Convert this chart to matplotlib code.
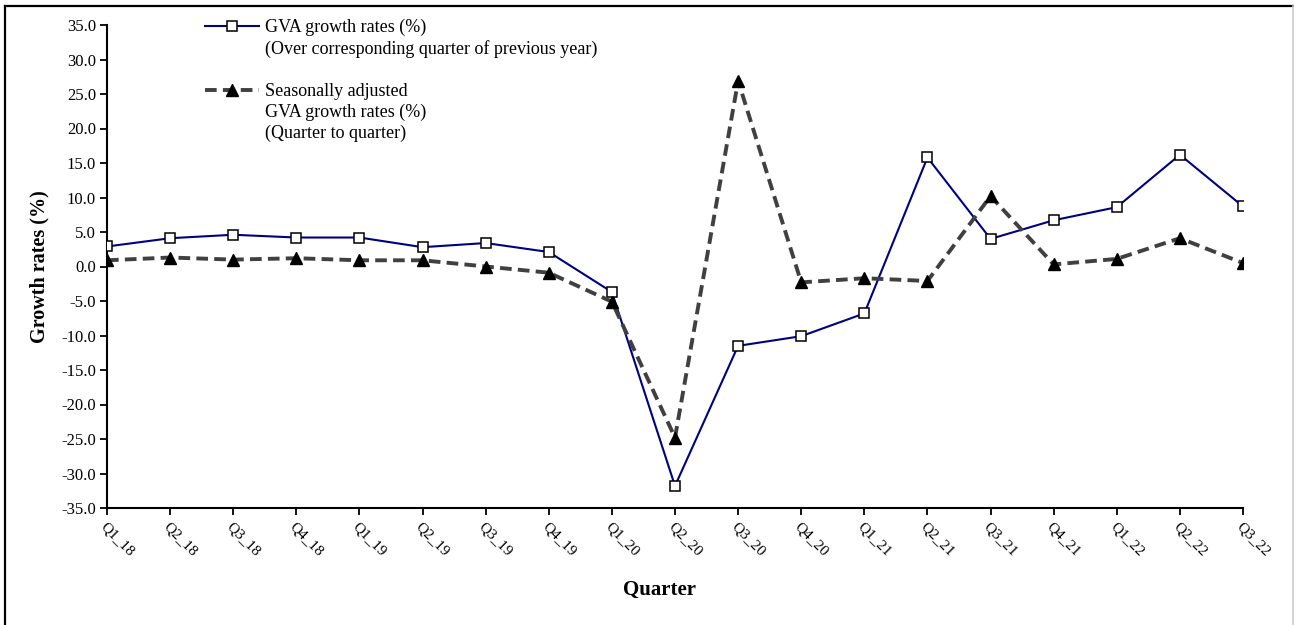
import matplotlib
matplotlib.use("Agg")
import matplotlib.pyplot as plt
from matplotlib.lines import Line2D

quarters = ["Q1_18", "Q2_18", "Q3_18", "Q4_18", "Q1_19", "Q2_19", "Q3_19", "Q4_19",
            "Q1_20", "Q2_20", "Q3_20", "Q4_20", "Q1_21", "Q2_21", "Q3_21", "Q4_21",
            "Q1_22", "Q2_22", "Q3_22"]
gva_yoy = [2.9, 4.1, 4.6, 4.2, 4.2, 2.8, 3.4, 2.1,
           -3.7, -31.8, -11.5, -10.1, -6.8, 15.8, 4.0, 6.7,
           8.6, 16.2, 8.7]
gva_sa_qoq = [0.9, 1.3, 1.0, 1.2, 0.9, 0.9, 0.0, -0.9,
              -5.1, -24.8, 26.9, -2.3, -1.7, -2.1, 10.2, 0.3,
              1.1, 4.1, 0.5]
yticks = [-35, -30, -25, -20, -15, -10, -5, 0, 5, 10, 15, 20, 25, 30, 35]

plt.rcParams["font.family"] = ["Liberation Serif", "DejaVu Serif"]

fig = plt.figure(figsize=(12.94, 6.25), dpi=100)
ax = fig.add_axes([107 / 1294, 1 - 508 / 625, 1136 / 1294, 483 / 625])

x = list(range(len(quarters)))
ax.plot(x, gva_yoy, color="#000080", lw=1.5, marker="s", markersize=7.8,
        markerfacecolor="white", markeredgecolor="black", markeredgewidth=1.1, zorder=3)
ax.plot(x, gva_sa_qoq, color="#404040", lw=2.8, linestyle=(0, (3, 1.6)),
        marker="^", markersize=9, markerfacecolor="black", markeredgecolor="black", zorder=4)

ax.set_xlim(0, len(quarters) - 1)
ax.set_ylim(-35, 35)
ax.set_yticks(yticks)
ax.set_yticklabels([f"{v:.1f}" for v in yticks], fontsize=12)
ax.set_xticks(x)
ax.set_xticklabels(quarters, fontsize=11, rotation=-45, ha="left", va="top",
                   rotation_mode="anchor")
for s in ["top", "right"]:
    ax.spines[s].set_visible(False)
for s in ["left", "bottom"]:
    ax.spines[s].set_linewidth(1.5)
ax.tick_params(axis="both", direction="out", length=5, width=1.3, pad=3)
ax.tick_params(axis="x", pad=4)

ax.set_ylabel("Growth rates (%)", fontsize=14.5, fontweight="bold", labelpad=8)
fig.text(660 / 1294, 1 - 590 / 625, "Quarter", fontsize=15, fontweight="bold",
         ha="center", va="center")

blank = Line2D([], [], linestyle="none")
h1 = Line2D([], [], color="#000080", lw=1.5, marker="s", markersize=7.8,
            markerfacecolor="white", markeredgecolor="black", markeredgewidth=1.1)
h2 = Line2D([], [], color="#404040", lw=2.8, linestyle=(0, (3, 1.6)), marker="^",
            markersize=9, markerfacecolor="black", markeredgecolor="black")
handles = [h1, blank, blank, h2, blank, blank]
labels = ["GVA growth rates (%)", "(Over corresponding quarter of previous year)", "",
          "Seasonally adjusted", "GVA growth rates (%)", "(Quarter to quarter)"]
ax.legend(handles, labels, loc="upper left", bbox_to_anchor=(0.086, 1.013),
          frameon=False, fontsize=13, handlelength=3.0, handletextpad=0.35,
          labelspacing=0.22, borderpad=0, borderaxespad=0)

# outer frame of the picture
fig.add_artist(Line2D([5 / 1294, 5 / 1294], [0, 1 - 6 / 625], transform=fig.transFigure,
                      color="black", lw=1.6))
fig.add_artist(Line2D([5 / 1294, 1293 / 1294], [1 - 6 / 625, 1 - 6 / 625],
                      transform=fig.transFigure, color="black", lw=1.6))
fig.add_artist(Line2D([1293 / 1294, 1293 / 1294], [0, 1 - 6 / 625], transform=fig.transFigure,
                      color="#cccccc", lw=1.2))

fig.savefig("out.png", dpi=100, facecolor="white")
